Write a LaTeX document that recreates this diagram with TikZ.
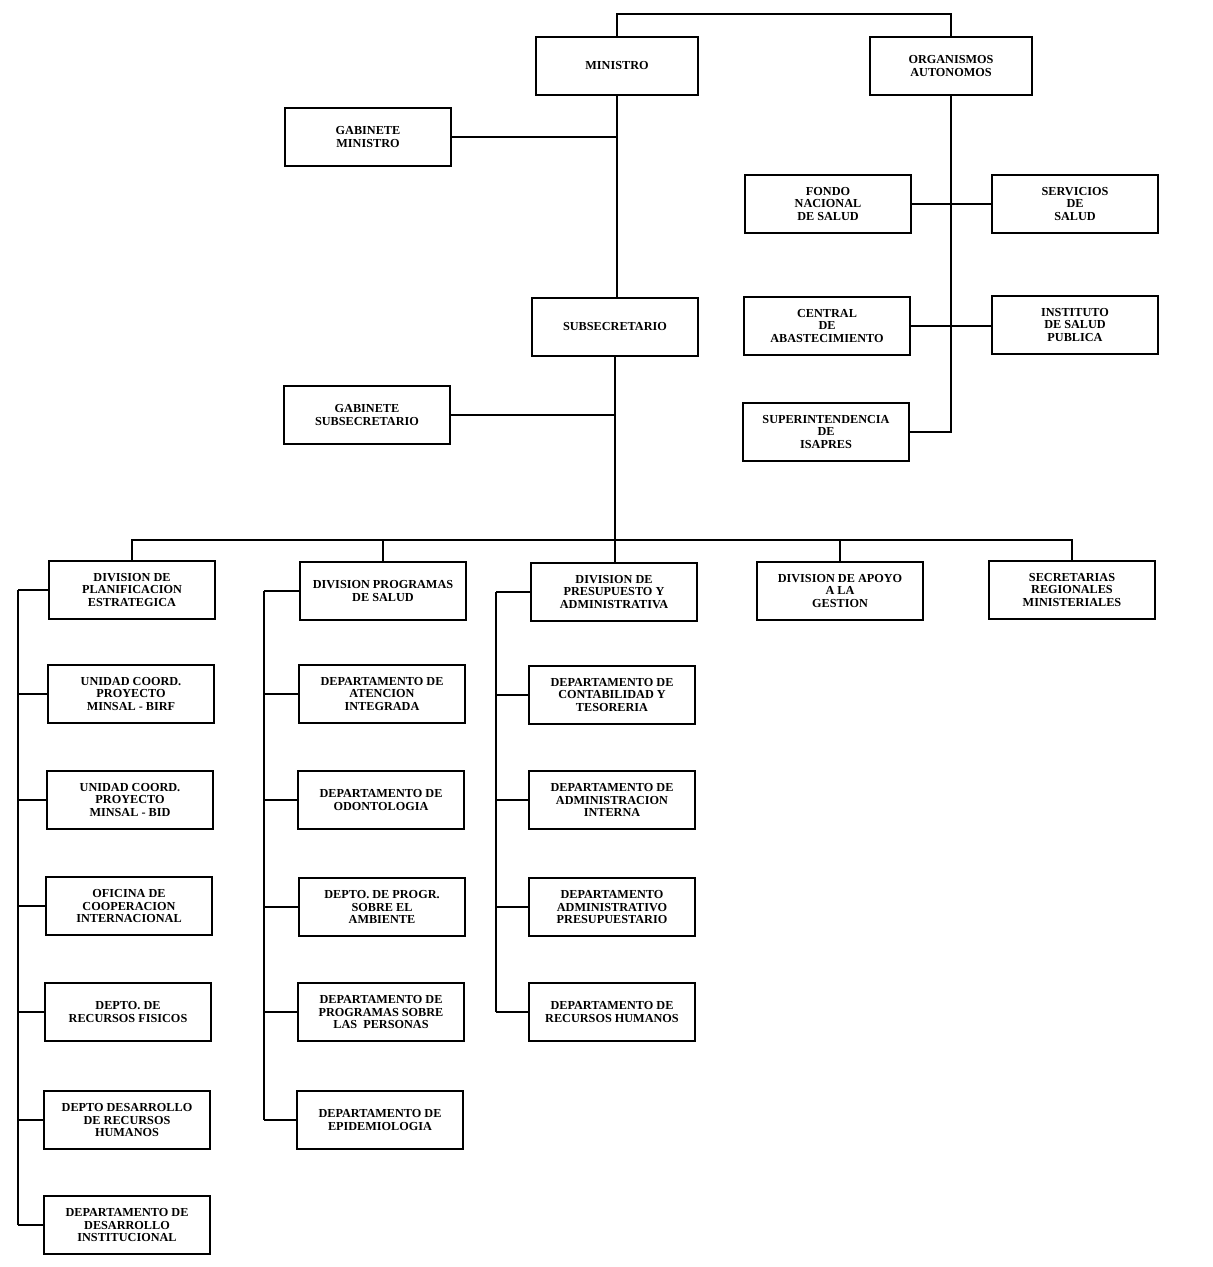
\documentclass[tikz,border=0pt]{standalone}
\usepackage{fontspec}
\setmainfont{Liberation Serif}
\usepackage{tikz}

\tikzset{
  unit/.style={draw, line width=1.3pt, align=center, minimum width=4.15cm,
    minimum height=1.45cm, inner sep=1pt,
    font=\bfseries\fontsize{8.7}{8.9}\selectfont},
  link/.style={line width=1.3pt}
}

\begin{document}
\begin{tikzpicture}[x=0.025cm, y=-0.025cm]
  \useasboundingbox (0,0) rectangle (1212,1267);

  % Top level
  \node[unit, minimum width=4.05cm] (min) at (617,66) {MINISTRO};
  \node[unit, minimum width=4.05cm] (org) at (951,66) {ORGANISMOS\\AUTONOMOS};
  \node[unit] (gmin) at (368,137) {GABINETE\\MINISTRO};
  \node[unit] (sub) at (615,327) {SUBSECRETARIO};
  \node[unit] (gsub) at (367,415) {GABINETE\\SUBSECRETARIO};

  % Autonomous bodies
  \node[unit] (fon) at (828,204) {FONDO\\NACIONAL\\DE SALUD};
  \node[unit] (serv) at (1075,204) {SERVICIOS\\DE\\SALUD};
  \node[unit] (cen) at (827,326) {CENTRAL\\DE\\ABASTECIMIENTO};
  \node[unit] (ins) at (1075,325) {INSTITUTO\\DE SALUD\\PUBLICA};
  \node[unit] (sup) at (826,432) {SUPERINTENDENCIA\\DE\\ISAPRES};

  % Divisions
  \node[unit] (dpl) at (132,590) {DIVISION DE\\PLANIFICACION\\ESTRATEGICA};
  \node[unit] (dps) at (383,591) {DIVISION PROGRAMAS\\DE SALUD};
  \node[unit] (dpa) at (614,592) {DIVISION DE\\PRESUPUESTO Y\\ADMINISTRATIVA};
  \node[unit] (dag) at (840,591) {DIVISION DE APOYO\\A LA\\GESTION};
  \node[unit] (srm) at (1072,590) {SECRETARIAS\\REGIONALES\\MINISTERIALES};

  % Planificacion units
  \node[unit] (u1) at (131,694) {UNIDAD COORD.\\PROYECTO\\MINSAL - BIRF};
  \node[unit] (u2) at (130,800) {UNIDAD COORD.\\PROYECTO\\MINSAL - BID};
  \node[unit] (u3) at (129,906) {OFICINA DE\\COOPERACION\\INTERNACIONAL};
  \node[unit] (u4) at (128,1012) {DEPTO. DE\\RECURSOS FISICOS};
  \node[unit] (u5) at (127,1120) {DEPTO DESARROLLO\\DE RECURSOS\\HUMANOS};
  \node[unit] (u6) at (127,1225) {DEPARTAMENTO DE\\DESARROLLO\\INSTITUCIONAL};

  % Programas units
  \node[unit] (p1) at (382,694) {DEPARTAMENTO DE\\ATENCION\\INTEGRADA};
  \node[unit] (p2) at (381,800) {DEPARTAMENTO DE\\ODONTOLOGIA};
  \node[unit] (p3) at (382,907) {DEPTO. DE PROGR.\\SOBRE EL\\AMBIENTE};
  \node[unit] (p4) at (381,1012) {DEPARTAMENTO DE\\PROGRAMAS SOBRE\\LAS\ \ PERSONAS};
  \node[unit] (p5) at (380,1120) {DEPARTAMENTO DE\\EPIDEMIOLOGIA};

  % Presupuesto units
  \node[unit] (a1) at (612,695) {DEPARTAMENTO DE\\CONTABILIDAD Y\\TESORERIA};
  \node[unit] (a2) at (612,800) {DEPARTAMENTO DE\\ADMINISTRACION\\INTERNA};
  \node[unit] (a3) at (612,907) {DEPARTAMENTO\\ADMINISTRATIVO\\PRESUPUESTARIO};
  \node[unit] (a4) at (612,1012) {DEPARTAMENTO DE\\RECURSOS HUMANOS};

  % Helper points
  \coordinate (top) at (617,14);
  \coordinate (bus) at (615,540);
  \coordinate (railA) at (18,0);
  \coordinate (railB) at (264,0);
  \coordinate (railC) at (496,0);

  % Upper links
  \draw[link] (min.north) |- (top) -| (org.north);
  \draw[link] (min.south) -- (min.south |- sub.north);
  \draw[link] (gmin.east) -- (gmin.east -| min.south);
  \draw[link] (gsub.east) -- (gsub.east -| sub.south);
  \draw[link] (org.south) |- (sup.east);
  \draw[link] (fon.east) -- (fon.east -| serv.west);
  \draw[link] (cen.east) -- (cen.east -| ins.west);

  % Division bus
  \draw[link] (sub.south) -- (sub.south |- dpa.north);
  \draw[link] (dpl.north) |- (bus) -| (srm.north);
  \foreach \d in {dps,dag}
    \draw[link] (\d.north) -- (\d.north |- bus);

  % Side rails
  \draw[link] (dpl.west -| railA) -- (u6.west -| railA);
  \foreach \n in {dpl,u1,u2,u3,u4,u5,u6}
    \draw[link] (\n.west) -- (\n.west -| railA);
  \draw[link] (dps.west -| railB) -- (p5.west -| railB);
  \foreach \n in {dps,p1,p2,p3,p4,p5}
    \draw[link] (\n.west) -- (\n.west -| railB);
  \draw[link] (dpa.west -| railC) -- (a4.west -| railC);
  \foreach \n in {dpa,a1,a2,a3,a4}
    \draw[link] (\n.west) -- (\n.west -| railC);
\end{tikzpicture}
\end{document}
